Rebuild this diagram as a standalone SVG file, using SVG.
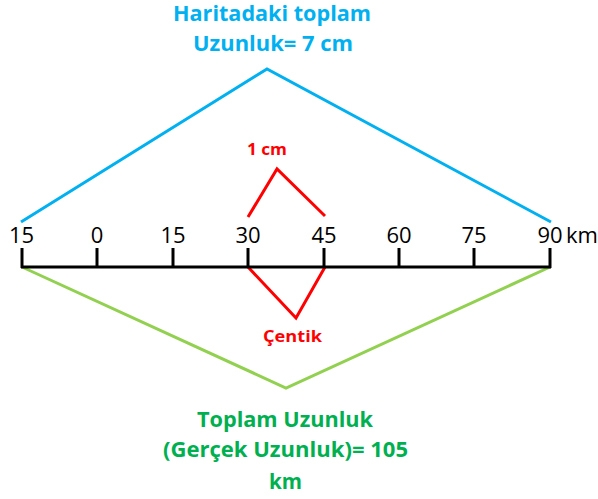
<svg xmlns="http://www.w3.org/2000/svg" width="598" height="499" viewBox="0 0 598 499">
<style>
.lbl{font-family:"Open Sans","Liberation Sans",sans-serif;font-size:22px;fill:#000;text-anchor:middle}
.b{font-family:"Open Sans","Liberation Sans",sans-serif;font-weight:bold;text-anchor:middle}
.blue{fill:#00B0F0;font-size:22px}
.green{fill:#00B050;font-size:22px}
.red{fill:#FF0000;font-size:15.5px}
.ln{fill:none;stroke-width:3;stroke-linejoin:miter;stroke-linecap:butt}
</style>
<rect width="598" height="499" fill="#fff"/>
<g id="connectors">
<polyline class="ln" stroke="#00B0F0" points="21,222 267,69 551,222"/>
<polyline class="ln" stroke="#FF0000" points="248,217 277,169 325,216"/>
<polyline class="ln" stroke="#FF0000" points="248,267 296,318 325,267"/>
<polyline class="ln" stroke="#92D050" points="22,267 286,388 550,267"/>
</g>
<g id="scale">
<line x1="21" y1="267" x2="551" y2="267" stroke="#000" stroke-width="3"/>
<g stroke="#000" stroke-width="3">
<line x1="22" y1="248" x2="22" y2="268"/>
<line x1="97" y1="248" x2="97" y2="268"/>
<line x1="173" y1="248" x2="173" y2="268"/>
<line x1="248" y1="248" x2="248" y2="268"/>
<line x1="324" y1="248" x2="324" y2="268"/>
<line x1="399" y1="248" x2="399" y2="268"/>
<line x1="474" y1="248" x2="474" y2="268"/>
<line x1="550" y1="248" x2="550" y2="268"/>
</g>
<text class="lbl" x="21.5" y="243">15</text>
<text class="lbl" x="97" y="243">0</text>
<text class="lbl" x="173" y="243">15</text>
<text class="lbl" x="248" y="243">30</text>
<text class="lbl" x="324" y="243">45</text>
<text class="lbl" x="399" y="243">60</text>
<text class="lbl" x="474" y="243">75</text>
<text class="lbl" x="550" y="243">90</text>
<text class="lbl" x="582" y="243">km</text>
</g>
<g id="map-length">
<text class="b blue" x="272" y="20.5" textLength="198" lengthAdjust="spacingAndGlyphs">Haritadaki toplam</text>
<text class="b blue" x="273" y="51" textLength="160" lengthAdjust="spacingAndGlyphs">Uzunluk= 7 cm</text>
</g>
<g id="one-cm">
<text class="b red" x="267" y="155" textLength="40" lengthAdjust="spacingAndGlyphs">1 cm</text>
</g>
<g id="notch">
<text class="b red" x="292.5" y="342" textLength="59" lengthAdjust="spacingAndGlyphs">Çentik</text>
</g>
<g id="real-length">
<text class="b green" x="285" y="427" textLength="176" lengthAdjust="spacingAndGlyphs">Toplam Uzunluk</text>
<text class="b green" x="285.5" y="457" textLength="245" lengthAdjust="spacingAndGlyphs">(Gerçek Uzunluk)= 105</text>
<text class="b green" x="285.5" y="489" textLength="33" lengthAdjust="spacingAndGlyphs">km</text>
</g>
</svg>
